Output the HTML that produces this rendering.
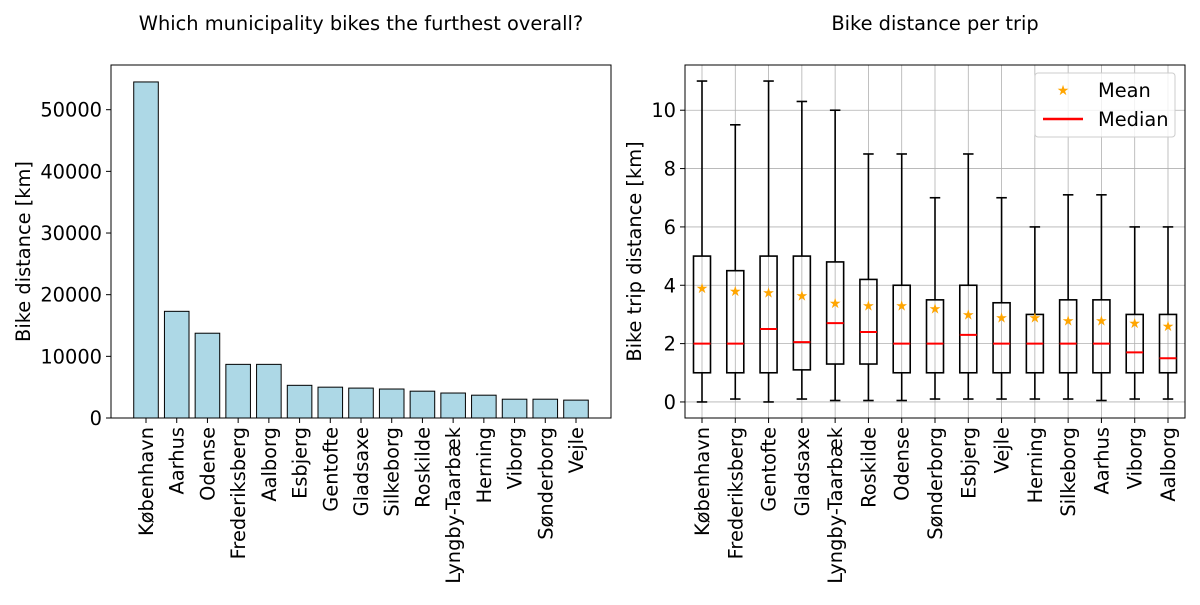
<!DOCTYPE html>
<html><head><meta charset="utf-8"><style>
body{margin:0;background:#fff}
svg{font-family:"DejaVu Sans","Liberation Sans",sans-serif}
</style></head><body>
<svg id="c" width="1200" height="600" xmlns="http://www.w3.org/2000/svg"></svg>
<script>
const leftCats=["København","Aarhus","Odense","Frederiksberg","Aalborg","Esbjerg","Gentofte","Gladsaxe","Silkeborg","Roskilde","Lyngby-Taarbæk","Herning","Viborg","Sønderborg","Vejle"];
const leftVals=[54500,17300,13750,8700,8700,5300,5000,4850,4700,4350,4050,3700,3050,3050,2900];
const leftTicks=[0,10000,20000,30000,40000,50000];
const rightCats=["København","Frederiksberg","Gentofte","Gladsaxe","Lyngby-Taarbæk","Roskilde","Odense","Sønderborg","Esbjerg","Vejle","Herning","Silkeborg","Aarhus","Viborg","Aalborg"];
const whiskLow=[0,0.1,0,0.1,0.05,0.05,0.05,0.1,0.1,0.1,0.1,0.1,0.05,0.1,0.1];
const q1=[1,1,1,1.1,1.3,1.3,1,1,1,1,1,1,1,1,1];
const medians=[2,2,2.5,2.05,2.7,2.4,2,2,2.3,2,2,2,2,1.7,1.5];
const q3=[5,4.5,5,5,4.8,4.2,4,3.5,4,3.4,3,3.5,3.5,3,3];
const whiskHigh=[11,9.5,11,10.3,10,8.5,8.5,7,8.5,7,6,7.1,7.1,6,6];
const means=[3.9,3.8,3.75,3.65,3.4,3.3,3.3,3.2,3.0,2.9,2.9,2.8,2.8,2.7,2.6];
const rightTicks=[0,2,4,6,8,10];

const svg=document.getElementById('c');const NS="http://www.w3.org/2000/svg";
function el(t,a,p){const e=document.createElementNS(NS,t);for(const k in a)e.setAttribute(k,a[k]);(p||svg).appendChild(e);return e;}
function txt(s,a,p){const e=el('text',a,p);e.textContent=s;return e;}
const FS=19.4;

// LEFT
const L={x0:111,x1:611,y0:65,y1:418};
const lx=i=>L.x0+(i+1.14)*(L.x1-L.x0)/16.28;
const ly=v=>L.y1-(v/57250)*(L.y1-L.y0);
const bw=0.8*(L.x1-L.x0)/16.28;
leftVals.forEach((v,i)=>{const r=el('rect',{x:lx(i)-bw/2,y:ly(v),width:bw,height:ly(0)-ly(v),fill:"#add8e6",stroke:"#000","stroke-width":1});
});
el('rect',{x:L.x0,y:L.y0,width:L.x1-L.x0,height:L.y1-L.y0,fill:"none",stroke:"#000","stroke-width":1});
leftTicks.forEach(t=>{const y=ly(t);el('line',{x1:L.x0-5,x2:L.x0,y1:y,y2:y,stroke:"#000"});
const e=txt(String(t),{x:L.x0-9,y:y+7,"text-anchor":"end","font-size":FS});});
leftCats.forEach((c,i)=>{const x=lx(i);el('line',{x1:x,x2:x,y1:L.y1,y2:L.y1+5,stroke:"#000"});
const e=txt(c,{x:0,y:0,"text-anchor":"end","font-size":FS,transform:`translate(${x+7},${L.y1+9}) rotate(-90)`});});
let t=txt("Bike distance [km]",{x:0,y:0,"text-anchor":"middle","font-size":FS,transform:`translate(30,${(L.y0+L.y1)/2+10}) rotate(-90)`});
t=txt("Which municipality bikes the furthest overall?",{x:361,y:30,"text-anchor":"middle","font-size":FS});

// RIGHT
const R={x0:685,x1:1185,y0:65,y1:418};
const rxx=i=>702+i*(1168-702)/14;
const ry=v=>R.y1-(v+0.55)/12.1*(R.y1-R.y0);
rightTicks.forEach(v=>el('line',{x1:R.x0,x2:R.x1,y1:ry(v),y2:ry(v),stroke:"#b0b0b0","stroke-width":0.8}));
rightCats.forEach((c,i)=>el('line',{x1:rxx(i),x2:rxx(i),y1:R.y0,y2:R.y1,stroke:"#b0b0b0","stroke-width":0.8}));
const hw=8.5,cw=8.5;
rightCats.forEach((c,i)=>{const x=rxx(i);const g=el('g',{});

const st={stroke:"#000","stroke-width":1.6,fill:"none"};
el('line',Object.assign({x1:x,x2:x,y1:ry(q3[i]),y2:ry(whiskHigh[i])},st),g);
el('line',Object.assign({x1:x,x2:x,y1:ry(q1[i]),y2:ry(whiskLow[i])},st),g);
el('line',Object.assign({x1:x-cw/2-1,x2:x+cw/2+1,y1:ry(whiskHigh[i]),y2:ry(whiskHigh[i])},st),g);
el('line',Object.assign({x1:x-cw/2-1,x2:x+cw/2+1,y1:ry(whiskLow[i]),y2:ry(whiskLow[i])},st),g);
el('rect',Object.assign({x:x-hw,y:ry(q3[i]),width:2*hw,height:ry(q1[i])-ry(q3[i])},st),g);
el('line',{x1:x-hw,x2:x+hw,y1:ry(medians[i]),y2:ry(medians[i]),stroke:"#ff0000","stroke-width":2},g);
txt("★",{x:x,y:ry(means[i])+5,"text-anchor":"middle","font-size":14,fill:"#ffa500"},g);
});
el('rect',{x:R.x0,y:R.y0,width:R.x1-R.x0,height:R.y1-R.y0,fill:"none",stroke:"#000","stroke-width":1});
rightTicks.forEach(v=>{const y=ry(v);el('line',{x1:R.x0-5,x2:R.x0,y1:y,y2:y,stroke:"#000"});
const e=txt(String(v),{x:R.x0-9,y:y+7,"text-anchor":"end","font-size":FS});});
rightCats.forEach((c,i)=>{const x=rxx(i);el('line',{x1:x,x2:x,y1:R.y1,y2:R.y1+5,stroke:"#000"});
const e=txt(c,{x:0,y:0,"text-anchor":"end","font-size":FS,transform:`translate(${x+7},${R.y1+9}) rotate(-90)`});});
t=txt("Bike trip distance [km]",{x:0,y:0,"text-anchor":"middle","font-size":FS,transform:`translate(641,${(R.y0+R.y1)/2+10}) rotate(-90)`});
t=txt("Bike distance per trip",{x:935,y:30,"text-anchor":"middle","font-size":FS});
// legend
const lg=el('g',{});
el('rect',{x:1035,y:73,width:140,height:64,rx:3,fill:"#fff","fill-opacity":0.8,stroke:"#ccc"},lg);
txt("★",{x:1063,y:95,"text-anchor":"middle","font-size":14,fill:"#ffa500"},lg);
txt("Mean",{x:1098,y:97,"font-size":FS},lg);
el('line',{x1:1043,x2:1083,y1:119,y2:119,stroke:"#ff0000","stroke-width":2.5},lg);
txt("Median",{x:1098,y:126,"font-size":FS},lg);
</script>
</body></html>
